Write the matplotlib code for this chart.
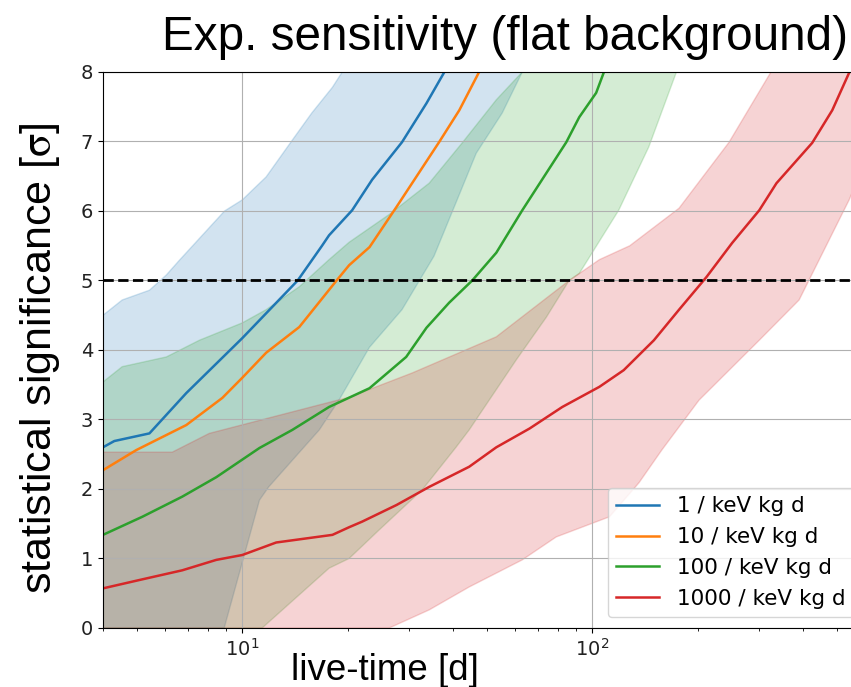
import numpy as np
import matplotlib.pyplot as plt

plt.rcParams['font.family'] = ['DejaVu Sans']
plt.rcParams['mathtext.fontset'] = 'stix'

labels = ['1 / keV kg d', '10 / keV kg d', '100 / keV kg d', '1000 / keV kg d']
colors = ['C0', 'C1', 'C2', 'C3']

# median significance vs live-time [d]
t_b1 = [4.0, 4.31, 5.43, 6.92, 10.0, 14.4, 16.9, 17.7, 20.6, 23.5, 28.6, 33.6, 37.8]
s_b1 = [2.60, 2.69, 2.80, 3.38, 4.17, 5.0, 5.5, 5.65, 6.01, 6.45, 6.99, 7.55, 8.0]

t_b10 = [4.0, 4.98, 6.92, 8.77, 10.0, 11.7, 14.55, 18.6, 20.2, 23.1, 27.6, 36.5, 41.7, 47.5]
s_b10 = [2.27, 2.56, 2.92, 3.31, 3.60, 3.96, 4.33, 5.0, 5.22, 5.48, 6.06, 6.99, 7.45, 8.0]

t_b100 = [4.0, 5.18, 6.74, 8.43, 11.2, 13.9, 17.7, 23.1, 29.4, 33.6, 39.0, 45.4, 53.2,
          63.1, 84.3, 91.8, 102.6, 108.0]
s_b100 = [1.34, 1.60, 1.89, 2.17, 2.59, 2.85, 3.18, 3.45, 3.90, 4.32, 4.68, 5.0, 5.40,
          6.01, 6.99, 7.35, 7.70, 8.0]

t_b1000 = [4.0, 5.08, 6.74, 8.43, 10.0, 12.5, 18.1, 20.2, 22.0, 27.6, 34.2, 44.5, 53.2,
           66.2, 82.1, 104.8, 123, 150, 177, 212, 251, 300, 336, 425, 485, 542]
s_b1000 = [0.57, 0.69, 0.83, 0.98, 1.05, 1.23, 1.34, 1.45, 1.53, 1.77, 2.03, 2.32, 2.60,
           2.87, 3.18, 3.47, 3.71, 4.14, 4.58, 5.05, 5.54, 6.01, 6.40, 6.98, 7.45, 7.99]

# spread of the toy experiments: upper / lower edges (clipped to the plot range)
up_t_b1 = [4.0, 4.54, 5.43, 6.07, 6.61, 8.9, 10.0, 11.7, 13.9, 15.8, 18.1, 19.3]
up_s_b1 = [4.5, 4.72, 4.86, 5.08, 5.29, 6.0, 6.16, 6.49, 7.02, 7.41, 7.78, 8.0]
lo_t_b1 = [4.0, 8.88, 11.2, 11.9, 16.6, 18.9, 23.1, 28.6, 35.3, 40.8, 46.6, 55.3, 63.1]
lo_s_b1 = [0.0, 0.0, 1.84, 2.03, 2.85, 3.28, 4.04, 4.58, 5.35, 6.12, 6.83, 7.41, 8.0]

up_t_b100 = [4.0, 4.54, 6.07, 7.54, 10.0, 11.7, 14.55, 17.7, 20.2, 26.3, 34.2, 42.5, 53.2, 63.1]
up_s_b100 = [3.54, 3.76, 3.90, 4.14, 4.39, 4.58, 4.91, 5.3, 5.55, 5.95, 6.40, 6.98, 7.6, 8.0]
lo_t_b100 = [4.0, 11.4, 17.7, 20.2, 24.6, 32.7, 40.8, 44.5, 60.7, 73.9, 85.9, 91.8, 119, 145, 174]
lo_s_b100 = [0.0, 0.0, 0.86, 1.0, 1.41, 1.99, 2.6, 2.85, 3.86, 4.47, 5.0, 5.1, 6.01, 6.92, 8.0]

up_t_b1000 = [4.0, 6.31, 8.05, 16.6, 20.2, 30.6, 53.2, 85.9, 104.8, 128, 177, 246, 324, 600]
up_s_b1000 = [2.53, 2.53, 2.8, 3.21, 3.32, 3.67, 4.19, 5.0, 5.3, 5.5, 6.04, 6.99, 8.0, 8.0]
lo_t_b1000 = [4.0, 26.3, 34.2, 44.5, 63.1, 78.9, 112, 136, 158, 202, 300, 390, 542, 600]
lo_s_b1000 = [0.0, 0.0, 0.26, 0.59, 0.98, 1.31, 1.6, 2.09, 2.56, 3.28, 4.14, 4.72, 6.16, 6.7]

medians = [(t_b1, s_b1), (t_b10, s_b10), (t_b100, s_b100), (t_b1000, s_b1000)]
bands = {
    0: (up_t_b1, up_s_b1, lo_t_b1, lo_s_b1),
    2: (up_t_b100, up_s_b100, lo_t_b100, lo_s_b100),
    3: (up_t_b1000, up_s_b1000, lo_t_b1000, lo_s_b1000),
}

fig = plt.figure(figsize=(8.51, 6.87), dpi=100)
ax = fig.add_axes([0.121, 0.0859, 0.895, 0.8093])

for i, (ut, us, lt, ls) in bands.items():
    ax.fill(np.r_[ut, lt[::-1]], np.r_[us, ls[::-1]], color=colors[i], alpha=0.2)

for (t, s), c, lab in zip(medians, colors, labels):
    ax.plot(t, s, color=c, lw=1.8, label=lab)

ax.axhline(5, color='k', ls='--', lw=2)

ax.set_xscale('log')
ax.set_xlim(4, 600)
ax.set_ylim(0, 8)
ax.grid(True)
ax.tick_params(labelsize=14, labelcolor='#222222')
ax.legend(loc='lower right', fontsize=15.5)

fig.text(848 / 851, 1 - 50 / 687, 'Exp. sensitivity (flat background)',
         family='Liberation Sans', fontsize=34.3, ha='right', va='baseline')
fig.text(291 / 851, 1 - 680 / 687, 'live-time [d]',
         family='Liberation Sans', fontsize=26.5, ha='left', va='baseline')
fig.text(40 / 851, 1 - 358 / 687, r'statistical significance [$\mathrm{\sigma}$]',
         family='Liberation Sans', fontsize=31, rotation=90, ha='center', va='center')

fig.savefig('out.png', dpi=100)
